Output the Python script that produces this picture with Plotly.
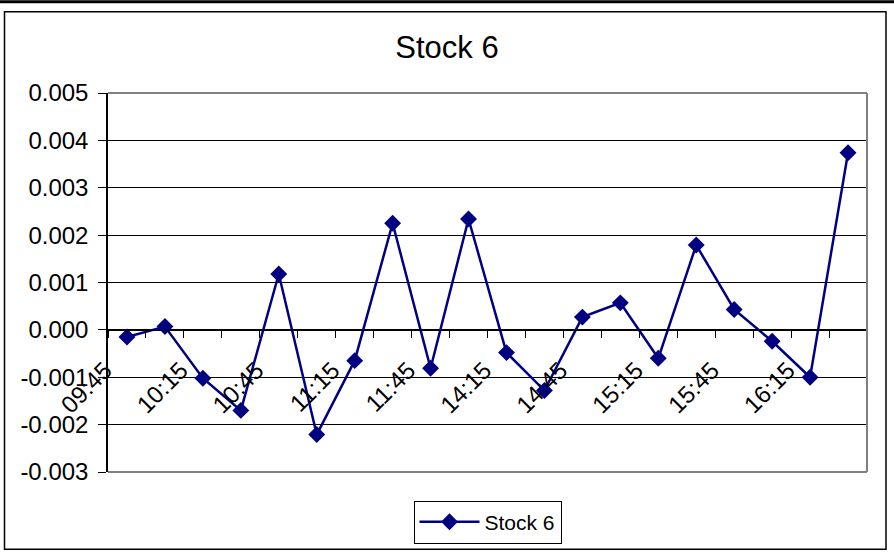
import plotly.graph_objects as go

# ---- data ----
categories = ["09:45", "10:00", "10:15", "10:30", "10:45", "11:00", "11:15", "11:30",
              "11:45", "12:00", "14:15", "14:30", "14:45", "15:00", "15:15", "15:30",
              "15:45", "16:00", "16:15", "16:30"]
stock6 = [-0.00015, 0.00007, -0.00102, -0.00170, 0.00118, -0.00221, -0.00065, 0.00225,
          -0.00081, 0.00234, -0.00048, -0.00128, 0.00027, 0.00057, -0.00060, 0.00179,
          0.00043, -0.00024, -0.00100, 0.00374]
shown_labels = ["09:45", "10:15", "10:45", "11:15", "11:45", "14:15", "14:45", "15:15",
                "15:45", "16:15"]
y_ticks = [-0.003, -0.002, -0.001, 0.0, 0.001, 0.002, 0.003, 0.004, 0.005]

# ---- geometry ----
W, H = 894, 556
L, R, T, B = 108, 867, 93.3, 474.3
pw, ph = R - L, B - T
def px(x): return (x - L) / pw
def py(y): return (B - y) / ph

FONT = "Arial, Liberation Sans, sans-serif"
NAVY = "#000080"

fig = go.Figure()
fig.add_trace(go.Scatter(
    x=categories, y=stock6, mode="lines+markers", name="Stock 6",
    line=dict(color=NAVY, width=2.5),
    marker=dict(symbol="diamond", size=13, color=NAVY),
))

ymin, ymax = y_ticks[0], y_ticks[-1]
zero_pos = (0 - ymin) / (ymax - ymin)

fig.update_layout(
    width=W, height=H,
    margin=dict(l=L, r=W - R, t=T, b=H - B, pad=0),
    paper_bgcolor="white", plot_bgcolor="white",
    font=dict(family=FONT, color="black"),
    title=dict(text="Stock 6", x=0.5, xref="container", xanchor="center",
               y=1 - 47 / H, yref="container", yanchor="middle",
               font=dict(size=31, family=FONT, color="black")),
    showlegend=True,
    legend=dict(x=0.5, xanchor="center", y=py(503), yanchor="top",
                orientation="h", bordercolor="black", borderwidth=1,
                bgcolor="white", itemwidth=60, font=dict(size=21, family=FONT)),
    xaxis=dict(type="category", categoryorder="array", categoryarray=categories,
               anchor="free", position=zero_pos,
               showline=True, linecolor="black", linewidth=1,
               showgrid=False, zeroline=False,
               ticks="outside", ticklen=7, tickcolor="black", tickwidth=1,
               tickson="boundaries",
               tickmode="array", tickvals=categories,
               ticktext=[c if c in shown_labels else "" for c in categories],
               tickangle=-45, ticklabelstandoff=16, ticklabelshift=-22,
               tickfont=dict(size=24, family=FONT, color="black"),
               range=[-0.5, len(categories) - 0.5], fixedrange=True),
    yaxis=dict(range=[ymin, ymax], showline=True, linecolor="black", linewidth=1.5,
               showgrid=True, gridcolor="black", gridwidth=1,
               zeroline=True, zerolinecolor="black", zerolinewidth=1,
               ticks="outside", ticklen=8, tickcolor="black",
               tickmode="array", tickvals=y_ticks,
               ticktext=[f"{v:.3f}" for v in y_ticks],
               ticklabelstandoff=5,
               tickfont=dict(size=24, family=FONT, color="black")),
)

# plot-area border (top, right, bottom) in grey
for x0, y0, x1, y1 in [(0, 1, 1, 1), (1, 0, 1, 1), (0, 0, 1, 0)]:
    fig.add_shape(type="line", xref="paper", yref="paper", x0=x0, y0=y0, x1=x1, y1=y1,
                  line=dict(color="#808080", width=2), layer="above")

# chart frame
fig.add_shape(type="rect", xref="paper", yref="paper",
              x0=px(4.5), x1=px(886), y0=py(552), y1=py(11.5),
              line=dict(color="black", width=1.5), layer="above")
# thick black band at very top
fig.add_shape(type="rect", xref="paper", yref="paper",
              x0=px(0), x1=px(894), y0=py(3), y1=py(0),
              line=dict(width=0), fillcolor="black", layer="above")

fig.write_html("out.html", config={"displayModeBar": False},
               post_script="document.body.style.margin='0px';document.body.style.overflow='hidden';")
